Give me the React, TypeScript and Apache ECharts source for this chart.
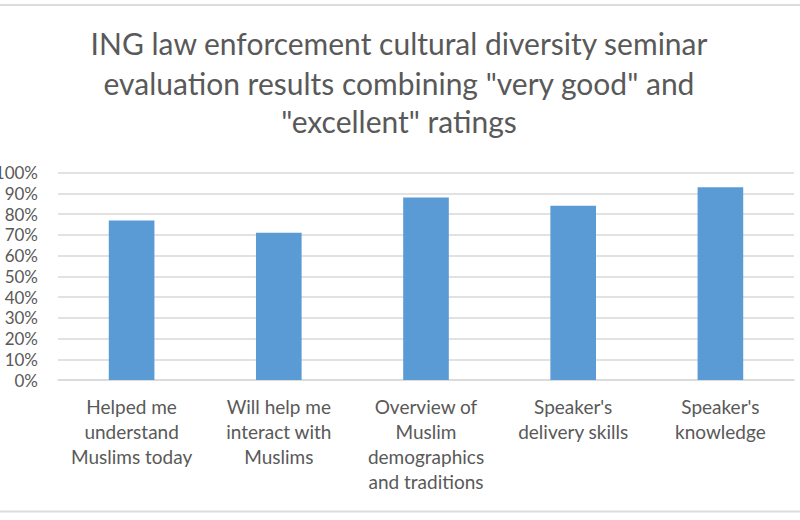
import React, { useEffect, useRef } from "react";
import * as echarts from "echarts";

const titleLines = [
  "ING law enforcement cultural diversity seminar",
  'evaluation results combining "very good" and',
  '"excellent" ratings',
];
const categories = [
  "Helped me\nunderstand\nMuslims today",
  "Will help me\ninteract with\nMuslims",
  "Overview of\nMuslim\ndemographics\nand traditions",
  "Speaker's\ndelivery skills",
  "Speaker's\nknowledge",
];
const values = [0.77, 0.71, 0.88, 0.84, 0.93];
const yTicks = { min: 0, max: 1, interval: 0.1 };

export default function App() {
  const ref = useRef<HTMLDivElement>(null);
  useEffect(() => {
    if (!ref.current) return;
    const chart = echarts.init(ref.current, undefined, { renderer: "svg" });
    const titleY = [43, 83, 121];
    chart.setOption({
      animation: false,
      backgroundColor: "#ffffff",
      grid: {
        left: 58,
        right: 6,
        top: 172.7,
        bottom: 140,
        containLabel: false,
        outerBoundsMode: "none",
      },
      xAxis: {
        type: "category",
        data: categories,
        axisLine: { show: true, lineStyle: { color: "#d9d9d9", width: 1.5 } },
        axisTick: { show: false },
        axisLabel: {
          interval: 0,
          margin: 14,
          fontFamily: "Lato",
          fontSize: 19,
          lineHeight: 25,
          color: "#595959",
        },
      },
      yAxis: {
        type: "value",
        min: yTicks.min,
        max: yTicks.max,
        interval: yTicks.interval,
        axisLine: { show: false },
        axisTick: { show: false },
        splitLine: { lineStyle: { color: "#d9d9d9", width: 1.5 } },
        axisLabel: {
          margin: 20,
          fontFamily: "Lato",
          fontSize: 17,
          color: "#595959",
          formatter: (v: number) => Math.round(v * 100) + "%",
        },
      },
      series: [
        {
          type: "bar",
          data: values,
          barWidth: "31%",
          itemStyle: { color: "#5b9bd5" },
        },
      ],
      graphic: [
        { type: "line", shape: { x1: 0, y1: 5, x2: 800, y2: 5 }, style: { stroke: "#dcdcdc", lineWidth: 2 } },
        { type: "line", shape: { x1: 0, y1: 511.5, x2: 800, y2: 511.5 }, style: { stroke: "#dcdcdc", lineWidth: 2 } },
        ...titleLines.map((t, i) => ({
          type: "text",
          x: 399,
          y: titleY[i],
          style: {
            text: t,
            fontFamily: "Lato",
            fontSize: 30,
            fill: "#595959",
            textAlign: "center",
            textVerticalAlign: "middle",
          },
        })),
      ],
    });
    return () => chart.dispose();
  }, []);
  return (
    <div
      ref={ref}
      style={{ position: "fixed", left: 0, top: 0, width: 800, height: 520 }}
    />
  );
}
